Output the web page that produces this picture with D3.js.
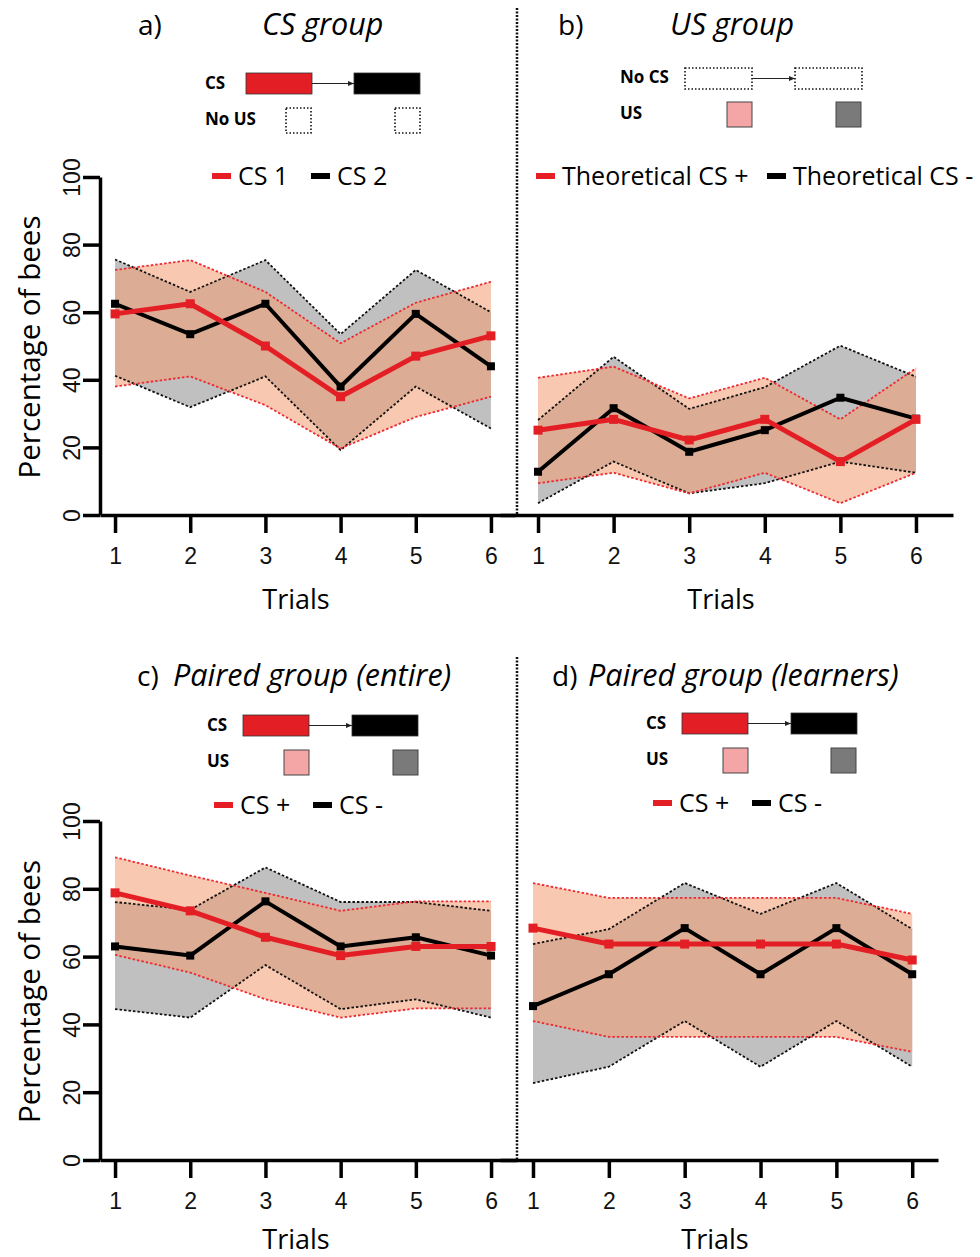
<!DOCTYPE html>
<html>
<head>
<meta charset="utf-8">
<script src="https://cdn.jsdelivr.net/npm/d3@7"></script>
<style>
  body { margin: 0; background: #fff; }
  svg { font-family: 'Open Sans', Lato, sans-serif; }
</style>
</head>
<body>
<svg id="canvas"></svg>
<script>
// values (percentage of bees, trials 1-6)
let trials = [1, 2, 3, 4, 5, 6]
let yTicks = [0, 20, 40, 60, 80, 100]

// a) CS group
let aCS1   = [59.5, 62.5, 50, 35, 47, 53]
let aCS1Hi = [72.5, 75.4, 66, 50.8, 62.8, 69]
let aCS1Lo = [38, 41, 32.5, 19.7, 29, 35]
let aCS2   = [62.5, 53.5, 62.5, 38, 59.5, 44]
let aCS2Hi = [75.6, 66, 75.4, 53.5, 72.5, 60]
let aCS2Lo = [41.2, 31.9, 41, 19.2, 38, 25.6]

// b) US group
let bPlus    = [25.1, 28.3, 22.2, 28.3, 15.8, 28.3]
let bPlusHi  = [40.6, 43.9, 34.5, 40.6, 28.3, 43.4]
let bPlusLo  = [9.4, 12.5, 6.4, 12.5, 3.5, 12.5]
let bMinus   = [12.8, 31.6, 18.7, 25.1, 34.7, 28.5]
let bMinusHi = [28.1, 46.8, 31.4, 37.8, 50.1, 40.9]
let bMinusLo = [3.5, 15.8, 6.4, 9.4, 15.8, 12.5]

// c) Paired group (entire)
let cPlus    = [78.8, 73.5, 65.7, 60.3, 63, 63]
let cPlusHi  = [89.3, 83.9, 78.8, 73.5, 76.3, 76.3]
let cPlusLo  = [60.5, 55.3, 47.4, 42, 44.7, 44.7]
let cMinus   = [63, 60.3, 76.3, 63, 65.7, 60.3]
let cMinusHi = [76.1, 73.8, 86.3, 76.1, 76.1, 73.5]
let cMinusLo = [44.5, 42, 57.5, 44.5, 47.4, 42]

// d) Paired group (learners)
let dPlus    = [68.4, 63.7, 63.7, 63.7, 63.7, 59]
let dPlusHi  = [81.7, 77.3, 77.3, 77.3, 77.3, 72.6]
let dPlusLo  = [41, 36.3, 36.3, 36.3, 36.3, 31.9]
let dMinus   = [45.4, 54.8, 68.4, 54.8, 68.4, 54.8]
let dMinusHi = [63.7, 68.1, 81.7, 72.6, 81.7, 68.1]
let dMinusLo = [22.7, 27.5, 41, 27.5, 41, 27.5]

let legendA = ['CS 1', 'CS 2']
let legendB = ['Theoretical CS +', 'Theoretical CS -']
let legendCD = ['CS +', 'CS -']

let width = 980
let height = 1257

let RED = '#e31e24'
let PEACH = 'rgb(242,155,111)'
let GREY_BAND = '#c0c0c0'

let svg = d3.select('#canvas')
            .attr('width', width)
            .attr('height', height)

let panels = [
    { tag: 'a)', title: 'CS group', tagX: 138, titleX: 262, titleY: 35,
      xRange: [100, 515], xDom: [0.8, 6.32], y0: 515, y100: 177, yAxis: true,
      red: [aCS1, aCS1Hi, aCS1Lo], black: [aCS2, aCS2Hi, aCS2Lo],
      legend: legendA, legX: [212, 311], legY: 176, trialsX: 296, trialsY: 609,
      schem: { x: 205, y: 73, labels: ['CS', 'No US'], boxes: [246, 354], boxW: 66, sq: [286, 395], mode: 'cs' } },
    { tag: 'b)', title: 'US group', tagX: 558, titleX: 670, titleY: 35,
      xRange: [500, 953], xDom: [0.497, 6.49], y0: 515, y100: 177, yAxis: false,
      red: [bPlus, bPlusHi, bPlusLo], black: [bMinus, bMinusHi, bMinusLo],
      legend: legendB, legX: [536, 767], legY: 176, trialsX: 721, trialsY: 609,
      schem: { x: 620, y: 67, labels: ['No CS', 'US'], boxes: [685, 795], boxW: 67, sq: [727, 836], mode: 'us' } },
    { tag: 'c)', title: 'Paired group (entire)', tagX: 137, titleX: 173, titleY: 686,
      xRange: [100, 517], xDom: [0.8, 6.345], y0: 1160, y100: 821, yAxis: true,
      red: [cPlus, cPlusHi, cPlusLo], black: [cMinus, cMinusHi, cMinusLo],
      legend: legendCD, legX: [214, 313], legY: 805, trialsX: 296, trialsY: 1249,
      schem: { x: 207, y: 715, labels: ['CS', 'US'], boxes: [243, 352], boxW: 66, sq: [284, 393], mode: 'paired' } },
    { tag: 'd)', title: 'Paired group (learners)', tagX: 552, titleX: 588, titleY: 686,
      xRange: [500, 938], xDom: [0.565, 6.34], y0: 1160, y100: 821, yAxis: false,
      red: [dPlus, dPlusHi, dPlusLo], black: [dMinus, dMinusHi, dMinusLo],
      legend: legendCD, legX: [653, 752], legY: 803, trialsX: 715, trialsY: 1249,
      schem: { x: 646, y: 713, labels: ['CS', 'US'], boxes: [682, 791], boxW: 66, sq: [723, 831], mode: 'paired' } }
]

// arrow marker for the schematics
svg.append('defs').append('marker')
    .attr('id', 'arrow')
    .attr('viewBox', '0 0 10 10')
    .attr('refX', 10).attr('refY', 5)
    .attr('markerWidth', 5).attr('markerHeight', 5)
    .attr('orient', 'auto')
    .append('path').attr('d', 'M0,1 L10,5 L0,9 Z').attr('fill', '#222')

let drawSchem = (s) => {
    let g = svg.append('g')
    g.append('text').attr('x', s.x).attr('y', s.y + 16)
        .attr('font-size', 17).attr('font-weight', 'bold').text(s.labels[0])
    g.append('text').attr('x', s.x).attr('y', s.y + 52)
        .attr('font-size', 17).attr('font-weight', 'bold').text(s.labels[1])

    let top = s.mode === 'us' ? s.y + 1 : s.y
    let h = 21
    s.boxes.forEach((bx, i) => {
        let r = g.append('rect').attr('x', bx).attr('y', top).attr('width', s.boxW).attr('height', h)
        if (s.mode === 'us') {
            r.attr('fill', 'none').attr('stroke', '#111').attr('stroke-width', 1.6).attr('stroke-dasharray', '1.5,2')
        } else {
            r.attr('fill', i === 0 ? RED : '#000').attr('stroke', '#333').attr('stroke-width', 0.8)
        }
    })
    g.append('line')
        .attr('x1', s.boxes[0] + s.boxW).attr('x2', s.boxes[1])
        .attr('y1', top + h / 2).attr('y2', top + h / 2)
        .attr('stroke', '#222').attr('stroke-width', 1.2)
        .attr('marker-end', 'url(#arrow)')

    s.sq.forEach((sx, i) => {
        let r = g.append('rect').attr('x', sx).attr('y', s.y + 35).attr('width', 25).attr('height', 25)
        if (s.mode === 'cs') {
            r.attr('fill', 'none').attr('stroke', '#111').attr('stroke-width', 1.6).attr('stroke-dasharray', '1.5,2')
        } else {
            r.attr('fill', i === 0 ? '#f4a6a6' : '#7a7a7a').attr('stroke', '#444').attr('stroke-width', 1)
        }
    })
}

let drawPanel = (p) => {
    let x = d3.scaleLinear().domain(p.xDom).range(p.xRange)
    let y = d3.scaleLinear().domain([0, 100]).range([p.y0, p.y100])
    let g = svg.append('g')

    // titles
    g.append('text').attr('x', p.tagX).attr('y', p.titleY).attr('font-size', 28).text(p.tag)
    g.append('text').attr('x', p.titleX).attr('y', p.titleY).attr('font-size', 30.5)
        .attr('font-style', 'italic').text(p.title)

    drawSchem(p.schem)

    // legend
    p.legend.forEach((lab, i) => {
        g.append('rect').attr('x', p.legX[i]).attr('y', p.legY - 3).attr('width', 19).attr('height', 6)
            .attr('fill', i === 0 ? RED : '#000')
        g.append('text').attr('x', p.legX[i] + 26).attr('y', p.legY + 9)
            .attr('font-size', 25).text(lab)
    })

    let area = (hi, lo) => d3.area()
        .x((d, i) => x(trials[i]))
        .y0((d, i) => y(lo[i]))
        .y1((d, i) => y(hi[i]))(trials)
    let line = d3.line().x((d, i) => x(trials[i])).y(d => y(d))

    // confidence bands
    g.append('path').attr('d', area(p.black[1], p.black[2])).attr('fill', GREY_BAND)
    g.append('path').attr('d', area(p.red[1], p.red[2])).attr('fill', PEACH).attr('fill-opacity', 0.55)

    // band edges (dotted)
    ;[[p.black, '#111'], [p.red, '#ee2a30']].forEach(([ser, col]) => {
        [ser[1], ser[2]].forEach(arr => {
            g.append('path').attr('d', line(arr)).attr('fill', 'none')
                .attr('stroke', col).attr('stroke-width', 1.8).attr('stroke-dasharray', '2.5,2')
        })
    })

    // mean lines + square markers
    ;[[p.black[0], '#000', 4, 8], [p.red[0], RED, 5, 9]].forEach(([arr, col, sw, ms]) => {
        g.append('path').attr('d', line(arr)).attr('fill', 'none')
            .attr('stroke', col).attr('stroke-width', sw).attr('stroke-linejoin', 'round')
        g.selectAll(null).data(arr).enter().append('rect')
            .attr('x', (d, i) => x(trials[i]) - ms / 2)
            .attr('y', d => y(d) - ms / 2)
            .attr('width', ms).attr('height', ms)
            .attr('fill', col)
    })

    // x axis
    let xAxis = g.append('g').attr('transform', `translate(0,${p.y0})`)
        .call(d3.axisBottom(x).tickValues(trials).tickFormat(d3.format('d'))
                .tickSize(18).tickSizeOuter(0).tickPadding(15))
    xAxis.select('.domain').attr('stroke-width', 3.5)
    xAxis.selectAll('.tick line').attr('stroke-width', 3.5)
    xAxis.selectAll('.tick text').attr('font-size', 23).attr('font-family', 'Liberation Sans, Arial').attr('fill', '#111')

    g.append('text').attr('x', p.trialsX).attr('y', p.trialsY)
        .attr('text-anchor', 'middle').attr('font-size', 27).text('Trials')

    if (p.yAxis) {
        let yAxis = g.append('g').attr('transform', `translate(${p.xRange[0]},0)`)
            .call(d3.axisLeft(y).tickValues(yTicks).tickSize(17).tickSizeOuter(0))
        yAxis.select('.domain').attr('stroke-width', 3.5)
        yAxis.selectAll('.tick line').attr('stroke-width', 3.5)
        yAxis.selectAll('.tick text')
            .attr('x', 0).attr('y', -20).attr('dy', 0)
            .attr('transform', 'rotate(-90)')
            .attr('text-anchor', 'middle')
            .attr('font-size', 23).attr('font-family', 'Liberation Sans, Arial').attr('fill', '#111')

        g.append('text')
            .attr('transform', `translate(40,${(p.y0 + p.y100) / 2 + 1}) rotate(-90)`)
            .attr('text-anchor', 'middle').attr('font-size', 29.5)
            .text('Percentage of bees')
    }
}

panels.forEach(drawPanel)

// dotted separators between left and right panels
;[[8, 515], [657, 1160]].forEach(([a, b]) => {
    svg.append('line').attr('x1', 517).attr('x2', 517).attr('y1', a).attr('y2', b)
        .attr('stroke', '#111').attr('stroke-width', 2.5).attr('stroke-dasharray', '2,1.5')
})
</script>
</body>
</html>
